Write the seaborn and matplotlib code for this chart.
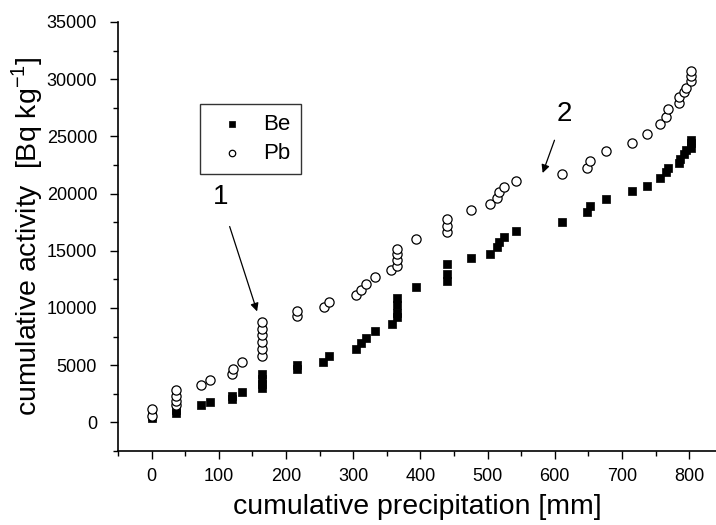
import matplotlib
matplotlib.use("Agg")
import matplotlib.pyplot as plt
import seaborn as sns
import pandas as pd
from matplotlib.ticker import MultipleLocator

be_x = [0, 0, 37, 37, 73, 87, 119, 119, 134, 165, 165, 165, 165, 217, 217, 255, 264,
        304, 311, 319, 333, 358, 365, 365, 365, 365, 394, 440, 440, 440, 476, 503,
        514, 517, 524, 543, 611, 648, 652, 676, 715, 737, 756, 766, 769, 785, 786,
        793, 795, 803, 803, 803]
be_y = [350, 550, 800, 1100, 1500, 1750, 2050, 2350, 2700, 3000, 3400, 3800, 4200,
        4650, 5000, 5300, 5800, 6400, 6950, 7400, 8000, 8600, 9200, 9600, 10300,
        10900, 11850, 12400, 13000, 13850, 14350, 14750, 15300, 15750, 16200, 16700,
        17500, 18400, 18900, 19500, 20200, 20700, 21400, 21900, 22250, 22650, 23050,
        23450, 23800, 23950, 24400, 24650]

pb_x = [0, 0, 37, 37, 37, 37, 73, 87, 119, 121, 134, 165, 165, 165, 165, 165, 165,
        217, 217, 256, 264, 304, 311, 319, 333, 357, 365, 365, 365, 365, 394, 440,
        440, 440, 476, 503, 514, 517, 524, 543, 611, 648, 652, 676, 715, 737, 757,
        766, 769, 785, 785, 793, 795, 803, 803, 803]
pb_y = [550, 1200, 1500, 1900, 2350, 2800, 3300, 3700, 4200, 4700, 5300, 5800, 6400,
        7000, 7600, 8200, 8800, 9300, 9750, 10050, 10550, 11150, 11600, 12100, 12700,
        13300, 13700, 14200, 14700, 15200, 16000, 16650, 17150, 17750, 18550, 19100,
        19650, 20150, 20600, 21100, 21700, 22250, 22850, 23750, 24450, 25250, 26100,
        26700, 27400, 27950, 28450, 28850, 29250, 29800, 30250, 30700]

x_label = "cumulative precipitation [mm]"
y_label = "cumulative activity  [Bq kg$^{\\mathregular{-1}}$]"

sns.set_style("ticks")
plt.rcParams["font.family"] = ["Liberation Sans", "DejaVu Sans"]
plt.rcParams["mathtext.fontset"] = "custom"
plt.rcParams["mathtext.rm"] = "Liberation Sans"
plt.rcParams["text.color"] = "black"
plt.rcParams["axes.labelcolor"] = "black"

fig = plt.figure(figsize=(7.16, 5.25), dpi=100)
ax = fig.add_axes([118 / 716, 74 / 525, 598 / 716, 429 / 525])

be_df = pd.DataFrame({"x": be_x, "y": be_y})
pb_df = pd.DataFrame({"x": pb_x, "y": pb_y})

sns.scatterplot(data=be_df, x="x", y="y", ax=ax, marker="s", s=38, color="black",
                edgecolor="black", linewidth=0.5, label="Be", zorder=3)
sns.scatterplot(data=pb_df, x="x", y="y", ax=ax, marker="o", s=44, facecolor="white",
                edgecolor="black", linewidth=0.9, label="Pb", zorder=3)

ax.set_xlim(-50, 840)
ax.set_ylim(-2500, 35000)
ax.xaxis.set_major_locator(MultipleLocator(100))
ax.xaxis.set_minor_locator(MultipleLocator(50))
ax.yaxis.set_major_locator(MultipleLocator(5000))
ax.yaxis.set_minor_locator(MultipleLocator(2500))
ax.tick_params(which="major", direction="out", length=6, width=1, labelsize=13,
               colors="black", pad=6)
ax.tick_params(axis="y", which="major", pad=9)
ax.tick_params(which="minor", direction="out", length=3.5, width=1, colors="black")
for sp in ["left", "bottom"]:
    ax.spines[sp].set_linewidth(1.2)
    ax.spines[sp].set_color("black")
sns.despine(ax=ax)

ax.set_xlabel(x_label, fontsize=20.5, labelpad=7)
ax.set_ylabel(y_label, fontsize=20.5, labelpad=1)

leg = ax.legend(loc="upper left", bbox_to_anchor=(0.137, 0.809), borderaxespad=0,
                fontsize=16, markerscale=0.7, fancybox=False, frameon=True,
                edgecolor="black", handletextpad=0.4, borderpad=0.45, labelspacing=0.35)
leg.get_frame().set_linewidth(1.0)

ax.annotate("1", xy=(157, 9700), xytext=(102, 19700), fontsize=20, ha="center", va="center",
            arrowprops=dict(arrowstyle="-|>", color="black", lw=0.9, shrinkA=10, shrinkB=0,
                            mutation_scale=12))
ax.annotate("2", xy=(582, 21800), xytext=(614, 27000), fontsize=20, ha="center", va="center",
            arrowprops=dict(arrowstyle="-|>", color="black", lw=0.9, shrinkA=8, shrinkB=0,
                            mutation_scale=12))

fig.savefig("out.png", dpi=100)
